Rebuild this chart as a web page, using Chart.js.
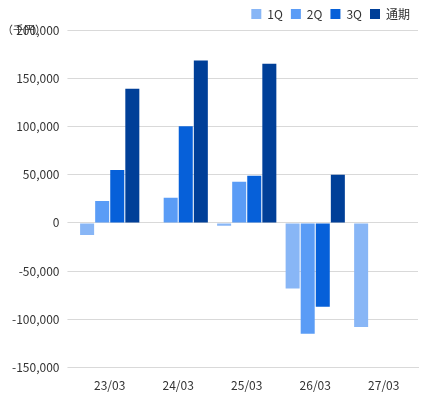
<!DOCTYPE html>
<html><head><meta charset="utf-8">
<script src="https://cdn.jsdelivr.net/npm/chart.js@4"></script>
<style>body{margin:0;background:#fff}#w{width:430px;height:400px}</style>
</head><body><div id="w"><canvas id="c"></canvas></div>
<script>
const categories=["23/03","24/03","25/03","26/03","27/03"];
const seriesNames=["1Q","2Q","3Q","通期"];
const q1=[-12600,null,-3000,-68000,-108000];
const q2=[22600,26000,42600,-115000,null];
const q3=[54800,100300,49000,-87000,null];
const full=[139000,168500,165000,50000,null];
const colors=["#88b6f6","#5a9cf6","#0660d9","#003f98"];
const font={family:"'Noto Sans CJK JP','Noto Sans',sans-serif",size:12};
const unitPlugin={id:"unit",afterDraw(ch){const c=ch.ctx;c.save();c.font="11px 'Noto Sans CJK JP',sans-serif";c.fillStyle="#333";c.textBaseline="middle";c.fillText("（千円）",2,30);c.restore();}};
const config={
  type:"bar",
  data:{labels:categories,datasets:[q1,q2,q3,full].map((d,i)=>({label:seriesNames[i],data:d,backgroundColor:colors[i],categoryPercentage:0.88,barPercentage:0.93}))},
  options:{
    responsive:true,maintainAspectRatio:false,animation:false,
    layout:{padding:{left:4,right:12,top:0,bottom:4}},
    plugins:{legend:{align:"end",labels:{boxWidth:10,boxHeight:10,font:font,color:"#333",padding:8}},tooltip:{enabled:false}},
    scales:{
      x:{grid:{display:false},border:{color:"#d9d9d9"},ticks:{font:font,color:"#333"}},
      y:{min:-150000,max:200000,ticks:{stepSize:50000,font:font,color:"#333",padding:8,callback:v=>v.toLocaleString("en-US")},grid:{color:"#d9d9d9"},border:{display:false}}
    }
  },
  plugins:[unitPlugin]
};
new Chart(document.getElementById("c"),config);
</script></body></html>
